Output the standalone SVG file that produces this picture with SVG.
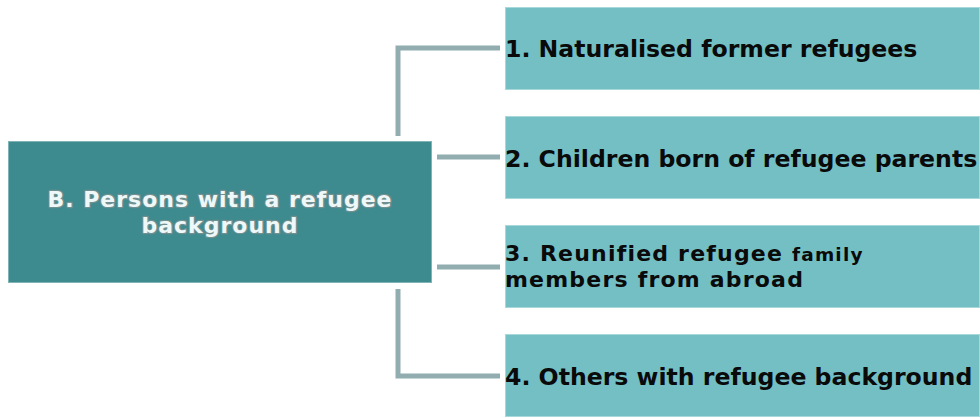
<svg xmlns="http://www.w3.org/2000/svg" width="980" height="418" viewBox="0 0 980 418">
<defs>
<style>
.child{fill:#73bfc4;stroke:#a9d8db;stroke-width:1}
.ct{font-family:"DejaVu Sans",Verdana,sans-serif;font-weight:bold;font-size:23.6px;fill:#0a0a0a}
.ct2{font-family:"DejaVu Sans",Verdana,sans-serif;font-weight:bold;font-size:22px;letter-spacing:1.2px;fill:#0a0a0a}
.conn{fill:none;stroke:#91adb0;stroke-width:5}
.main{fill:#3d8a8f;stroke:#7fb3b6;stroke-width:1}
.mt{font-family:"DejaVu Sans",Verdana,sans-serif;font-weight:bold;font-size:22px;letter-spacing:1px;fill:#eef8f8;text-anchor:middle;stroke:#6f8f90;stroke-width:2.5;paint-order:stroke;stroke-linejoin:round}
</style>
</defs>
<g id="connectors">
<polyline class="conn" points="398,136 398,48 500,48"/>
<line class="conn" x1="437" y1="157" x2="500" y2="157"/>
<line class="conn" x1="437" y1="267" x2="500" y2="267"/>
<polyline class="conn" points="398,289 398,376 500,376"/>
</g>
<g id="main">
<rect class="main" x="8.5" y="141.5" width="423" height="141"/>
<text class="mt" x="220" y="207">B. Persons with a refugee</text>
<text class="mt" x="220" y="233">background</text>
</g>
<g id="n1">
<rect class="child" x="505.5" y="7.5" width="474" height="82"/>
<text class="ct" x="505" y="57">1. Naturalised former refugees</text>
</g>
<g id="n2">
<rect class="child" x="505.5" y="116.5" width="474" height="82"/>
<text class="ct" x="505" y="167">2. Children born of refugee parents</text>
</g>
<g id="n3">
<rect class="child" x="505.5" y="225.5" width="474" height="82"/>
<text class="ct2" x="505" y="261">3. Reunified refugee <tspan font-size="18.5">family</tspan></text>
<text class="ct2" x="505" y="287">members from abroad</text>
</g>
<g id="n4">
<rect class="child" x="505.5" y="334.5" width="474" height="82"/>
<text class="ct" x="505" y="385">4. Others with refugee background</text>
</g>
</svg>
